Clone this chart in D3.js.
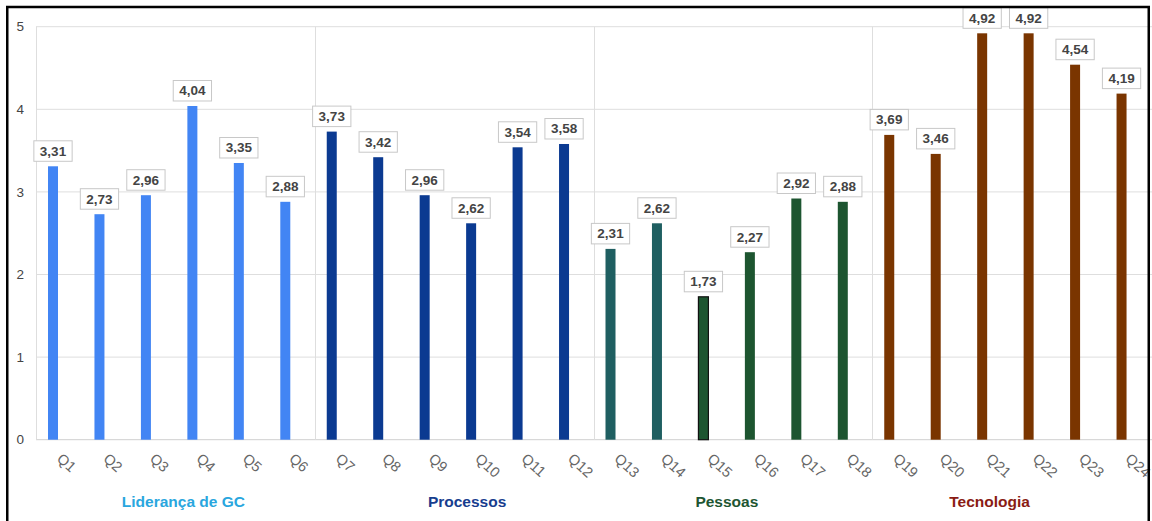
<!DOCTYPE html>
<html lang="pt">
<head>
<meta charset="utf-8">
<title>Avaliação por dimensão</title>
<script src="https://cdn.jsdelivr.net/npm/d3@7"></script>
<style>
    body { margin: 0; background: #fff; }
    svg { display: block; font-family: "Liberation Sans", Arial, sans-serif; }
    .grid line { stroke: #dedede; stroke-width: 1; }
    .y-tick { fill: #444; font-size: 13.5px; }
    .x-tick { fill: #666; font-size: 14.5px; }
    .val-box { fill: #fff; stroke: #c8c8c8; stroke-width: 1; }
    .val-text { fill: #444; font-size: 13.5px; font-weight: bold; }
    .group-label { font-size: 15.5px; font-weight: bold; }
</style>
</head>
<body>
<div id="chart"></div>
<script>
// data
const questions = ["Q1", "Q2", "Q3", "Q4", "Q5", "Q6",
                   "Q7", "Q8", "Q9", "Q10", "Q11", "Q12",
                   "Q13", "Q14", "Q15", "Q16", "Q17", "Q18",
                   "Q19", "Q20", "Q21", "Q22", "Q23", "Q24"];
const scores = [3.31, 2.73, 2.96, 4.04, 3.35, 2.88,
                3.73, 3.42, 2.96, 2.62, 3.54, 3.58,
                2.31, 2.62, 1.73, 2.27, 2.92, 2.88,
                3.69, 3.46, 4.92, 4.92, 4.54, 4.19];
const dimensions = ["Liderança de GC", "Processos", "Pessoas", "Tecnologia"];
const dimensionOfQuestion = [0, 0, 0, 0, 0, 0,
                             1, 1, 1, 1, 1, 1,
                             2, 2, 2, 2, 2, 2,
                             3, 3, 3, 3, 3, 3];
const yTicks = [0, 1, 2, 3, 4, 5];

// styles
const barColors = ["#4285f4", "#4285f4", "#4285f4", "#4285f4", "#4285f4", "#4285f4",
                   "#0b3a91", "#0b3a91", "#0b3a91", "#0b3a91", "#0b3a91", "#0b3a91",
                   "#1f5f61", "#1f5f61", "#1d5530", "#1d5530", "#1d5530", "#1d5530",
                   "#7a3500", "#7a3500", "#7a3500", "#7a3500", "#7a3500", "#7a3500"];
const outlinedBars = ["Q15"];
const labelColors = ["#29a6de", "#173d8e", "#1e5632", "#8a1c14"];
const labelShift = [8, 13, -6, -22];

const width = 1152, height = 521;
const plot = {left: 36, right: 1151, top: 26.7, bottom: 439.7};

const svg = d3.select('#chart')
    .append('svg')
        .attr('width', width)
        .attr('height', height);

const x = d3.scaleBand()
    .domain(questions)
    .range([plot.left, plot.right]);

const y = d3.scaleLinear()
    .domain([0, 5])
    .range([plot.bottom, plot.top]);

const barWidth = 10;
const barCenter = q => x(q) + 17;

// horizontal grid
const grid = svg.append('g').attr('class', 'grid');
grid.selectAll('line.h')
    .data(yTicks)
    .join('line')
        .attr('class', 'h')
        .attr('x1', plot.left)
        .attr('x2', width)
        .attr('y1', d => y(d))
        .attr('y2', d => y(d))
        .style('stroke', d => d === 0 ? '#cfcfcf' : null);

// vertical group separators
const groupStarts = dimensions.map((d, i) => questions[dimensionOfQuestion.indexOf(i)]);
grid.selectAll('line.v')
    .data(groupStarts)
    .join('line')
        .attr('class', 'v')
        .attr('x1', d => Math.round(x(d)) + 0.5)
        .attr('x2', d => Math.round(x(d)) + 0.5)
        .attr('y1', y(5))
        .attr('y2', y(0));

// y tick labels
svg.selectAll('text.y-tick')
    .data(yTicks)
    .join('text')
        .attr('class', 'y-tick')
        .attr('x', 24)
        .attr('y', d => y(d))
        .attr('dy', '0.35em')
        .attr('text-anchor', 'end')
        .text(d => d);

// bars
svg.selectAll('rect.bar')
    .data(questions)
    .join('rect')
        .attr('class', 'bar')
        .attr('x', q => barCenter(q) - barWidth / 2)
        .attr('y', (q, i) => y(scores[i]))
        .attr('width', barWidth)
        .attr('height', (q, i) => y(0) - y(scores[i]))
        .attr('fill', (q, i) => barColors[i])
        .attr('stroke', q => outlinedBars.includes(q) ? '#111' : 'none')
        .attr('stroke-width', 1.2);

// value labels in boxes
const fmt = v => d3.format('.2f')(v).replace('.', ',');
const labels = svg.selectAll('g.val')
    .data(questions)
    .join('g')
        .attr('class', 'val')
        .attr('transform', (q, i) => `translate(${barCenter(q)}, ${y(scores[i]) - 5})`);

labels.append('text')
    .attr('class', 'val-text')
    .attr('text-anchor', 'middle')
    .attr('y', -5.5)
    .text((q, i) => fmt(scores[i]));

labels.insert('rect', 'text')
    .attr('class', 'val-box')
    .each(function() {
        const w = this.parentNode.querySelector('text').getComputedTextLength() + 12;
        d3.select(this)
            .attr('x', -w / 2)
            .attr('y', -20.5)
            .attr('width', w)
            .attr('height', 20.5);
    });

// x tick labels, rotated
svg.selectAll('text.x-tick')
    .data(questions)
    .join('text')
        .attr('class', 'x-tick')
        .attr('transform', q => `translate(${barCenter(q) + 3}, 460) rotate(42)`)
        .text(q => q);

// group labels
svg.selectAll('text.group-label')
    .data(dimensions)
    .join('text')
        .attr('class', 'group-label')
        .attr('x', (d, i) => x(groupStarts[i]) + x.step() * 3 + labelShift[i])
        .attr('y', 507)
        .attr('text-anchor', 'middle')
        .attr('fill', (d, i) => labelColors[i])
        .text(d => d);

// outer frame
svg.append('rect')
    .attr('x', 7.25)
    .attr('y', 7)
    .attr('width', 1141.5)
    .attr('height', 600)
    .attr('fill', 'none')
    .attr('stroke', '#000')
    .attr('stroke-width', 2.5);
</script>
</body>
</html>
